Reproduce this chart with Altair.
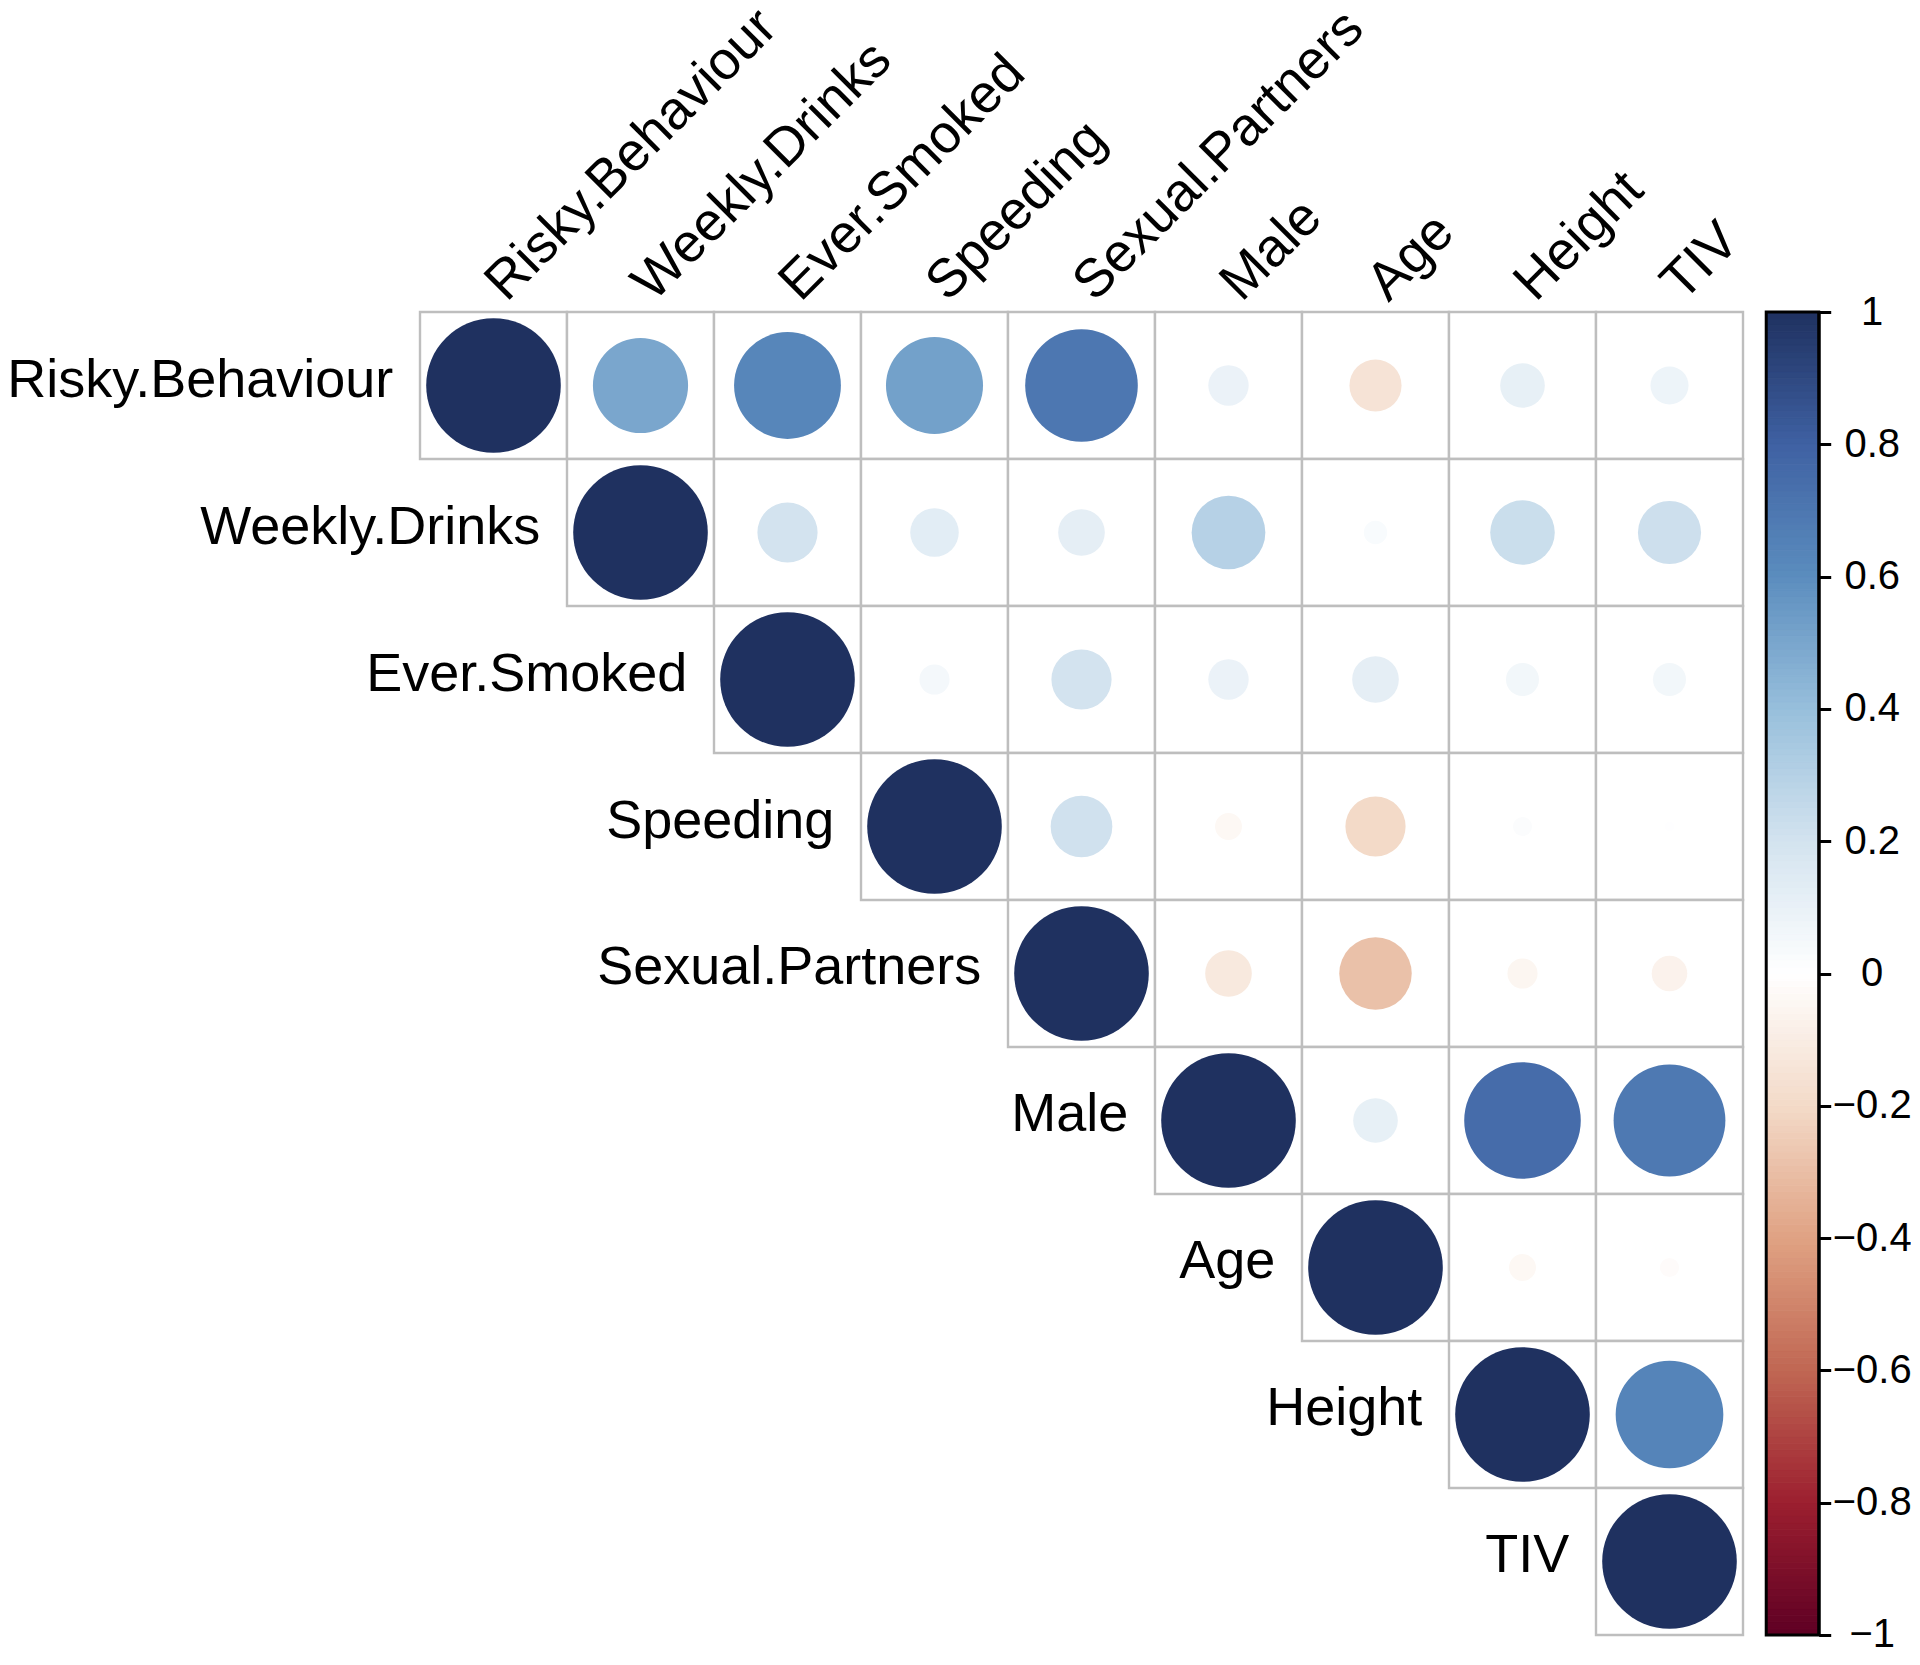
import altair as alt
import pandas as pd
import numpy as np

variables = ["Risky.Behaviour", "Weekly.Drinks", "Ever.Smoked", "Speeding",
             "Sexual.Partners", "Male", "Age", "Height", "TIV"]

# Upper-triangle correlations, each row starts at its diagonal cell
row_risky = [1, 0.50, 0.63, 0.52, 0.70, 0.09, -0.15, 0.11, 0.08]
row_drinks = [1, 0.20, 0.13, 0.12, 0.30, 0.03, 0.23, 0.22]
row_smoked = [1, 0.05, 0.20, 0.09, 0.12, 0.06, 0.06]
row_speeding = [1, 0.21, -0.04, -0.20, 0.02, 0.005]
row_partners = [1, -0.12, -0.29, -0.05, -0.07]
row_male = [1, 0.11, 0.75, 0.69]
row_age = [1, -0.04, -0.02]
row_height = [1, 0.64]
row_tiv = [1]
rows = [row_risky, row_drinks, row_smoked, row_speeding, row_partners,
        row_male, row_age, row_height, row_tiv]

colorbar_ticks = [-1, -0.8, -0.6, -0.4, -0.2, 0, 0.2, 0.4, 0.6, 0.8, 1]
color_stops = [-1, -0.8, -0.6, -0.4, -0.2, 0, 0.2, 0.4, 0.6, 0.8, 1]
color_values = ["#5e0024", "#9c1f2f", "#c06753", "#e0a283", "#f3dac8", "#ffffff",
                "#d3e3ef", "#98bfdc", "#5b8dbe", "#3f61a3", "#1f3160"]

CELL = 147.0
XMAX = 9.515
CB_X0, CB_X1 = 9.158, 9.515
FONT = "Liberation Sans"
MAX_D = 134.6  # circle diameter for |r| = 1

recs = []
for i, row in enumerate(rows):
    for k, r in enumerate(row):
        j = i + k
        recs.append(dict(i=i, j=j, r=r, absr=abs(r), x0=j, x1=j + 1, xc=j + 0.5,
                         y0=i, y1=i + 1, yc=i + 0.5))
cells = pd.DataFrame(recs)

row_lab = pd.DataFrame(dict(name=variables, x=list(range(9)),
                            y=[i + 0.5 for i in range(9)]))
col_lab = pd.DataFrame(dict(name=variables, x=[j + 0.588 for j in range(9)],
                            y=[-0.061] * 9))

edges = np.linspace(-1, 1, 201)
cb = pd.DataFrame(dict(v0=edges[:-1], v1=edges[1:], vm=(edges[:-1] + edges[1:]) / 2))

X = alt.Scale(domain=[0, XMAX], nice=False, zero=False)
Y = alt.Scale(domain=[0, 9], reverse=True, nice=False, zero=False)
CBY = alt.Scale(domain=[-1, 1], nice=False, zero=False)
CS = alt.Scale(domain=color_stops, range=color_values, interpolate="rgb")

grid = alt.Chart(cells).mark_rect(fill="white", stroke="#bebebe", strokeWidth=2.4).encode(
    x=alt.X("x0:Q", scale=X, axis=None), x2="x1:Q",
    y=alt.Y("y0:Q", scale=Y, axis=None), y2="y1:Q")

circles = alt.Chart(cells).mark_circle(opacity=1).encode(
    x=alt.X("xc:Q", scale=X, axis=None),
    y=alt.Y("yc:Q", scale=Y, axis=None),
    size=alt.Size("absr:Q", scale=alt.Scale(domain=[0, 1], range=[0, MAX_D ** 2]),
                  legend=None),
    color=alt.Color("r:Q", scale=CS, legend=None))

rlabels = alt.Chart(row_lab).mark_text(align="right", baseline="middle", dx=-26.7, dy=-5,
                                       fontSize=54, font=FONT, color="black").encode(
    x=alt.X("x:Q", scale=X, axis=None), y=alt.Y("y:Q", scale=Y, axis=None), text="name:N")

clabels = alt.Chart(col_lab).mark_text(align="left", baseline="alphabetic", angle=315,
                                       fontSize=54, font=FONT, color="black").encode(
    x=alt.X("x:Q", scale=X, axis=None), y=alt.Y("y:Q", scale=Y, axis=None), text="name:N")

colorbar = alt.Chart(cb).mark_rect(strokeWidth=1).encode(
    x=alt.X(datum=CB_X0, type="quantitative", scale=X, axis=None),
    x2=alt.X2(datum=CB_X1),
    y=alt.Y("v0:Q", scale=CBY,
            axis=alt.Axis(orient="right", values=colorbar_ticks, title=None,
                          labelExpr="replace('' + datum.value, '-', '\u2212')",
                          labelFont=FONT, labelFontSize=40,
                          labelColor="black", labelAlign="center", labelPadding=41,
                          labelOverlap=False, labelBound=False, labelFlush=False,
                          tickSize=12, tickWidth=3, tickColor="black",
                          domain=True, domainColor="black", domainWidth=3, grid=False)),
    y2="v1:Q",
    color=alt.Color("vm:Q", scale=CS, legend=None),
    stroke=alt.Stroke("vm:Q", scale=CS, legend=None))

border = alt.Chart(pd.DataFrame(dict(a=[-1], b=[1]))).mark_rect(
    fillOpacity=0, stroke="black", strokeWidth=3).encode(
    x=alt.X(datum=CB_X0, type="quantitative", scale=X, axis=None),
    x2=alt.X2(datum=CB_X1),
    y=alt.Y("a:Q", scale=CBY, axis=None), y2="b:Q")

chart = alt.layer(grid, circles, rlabels, clabels, colorbar, border).resolve_scale(
    y="independent"
).properties(
    width=CELL * XMAX, height=CELL * 9,
    autosize=alt.AutoSizeParams(type="none"),
    padding={"left": 412, "top": 304, "right": 92, "bottom": 20}
).configure_view(stroke=None)

chart.save("out.html", embed_options={"renderer": "svg", "actions": False})
